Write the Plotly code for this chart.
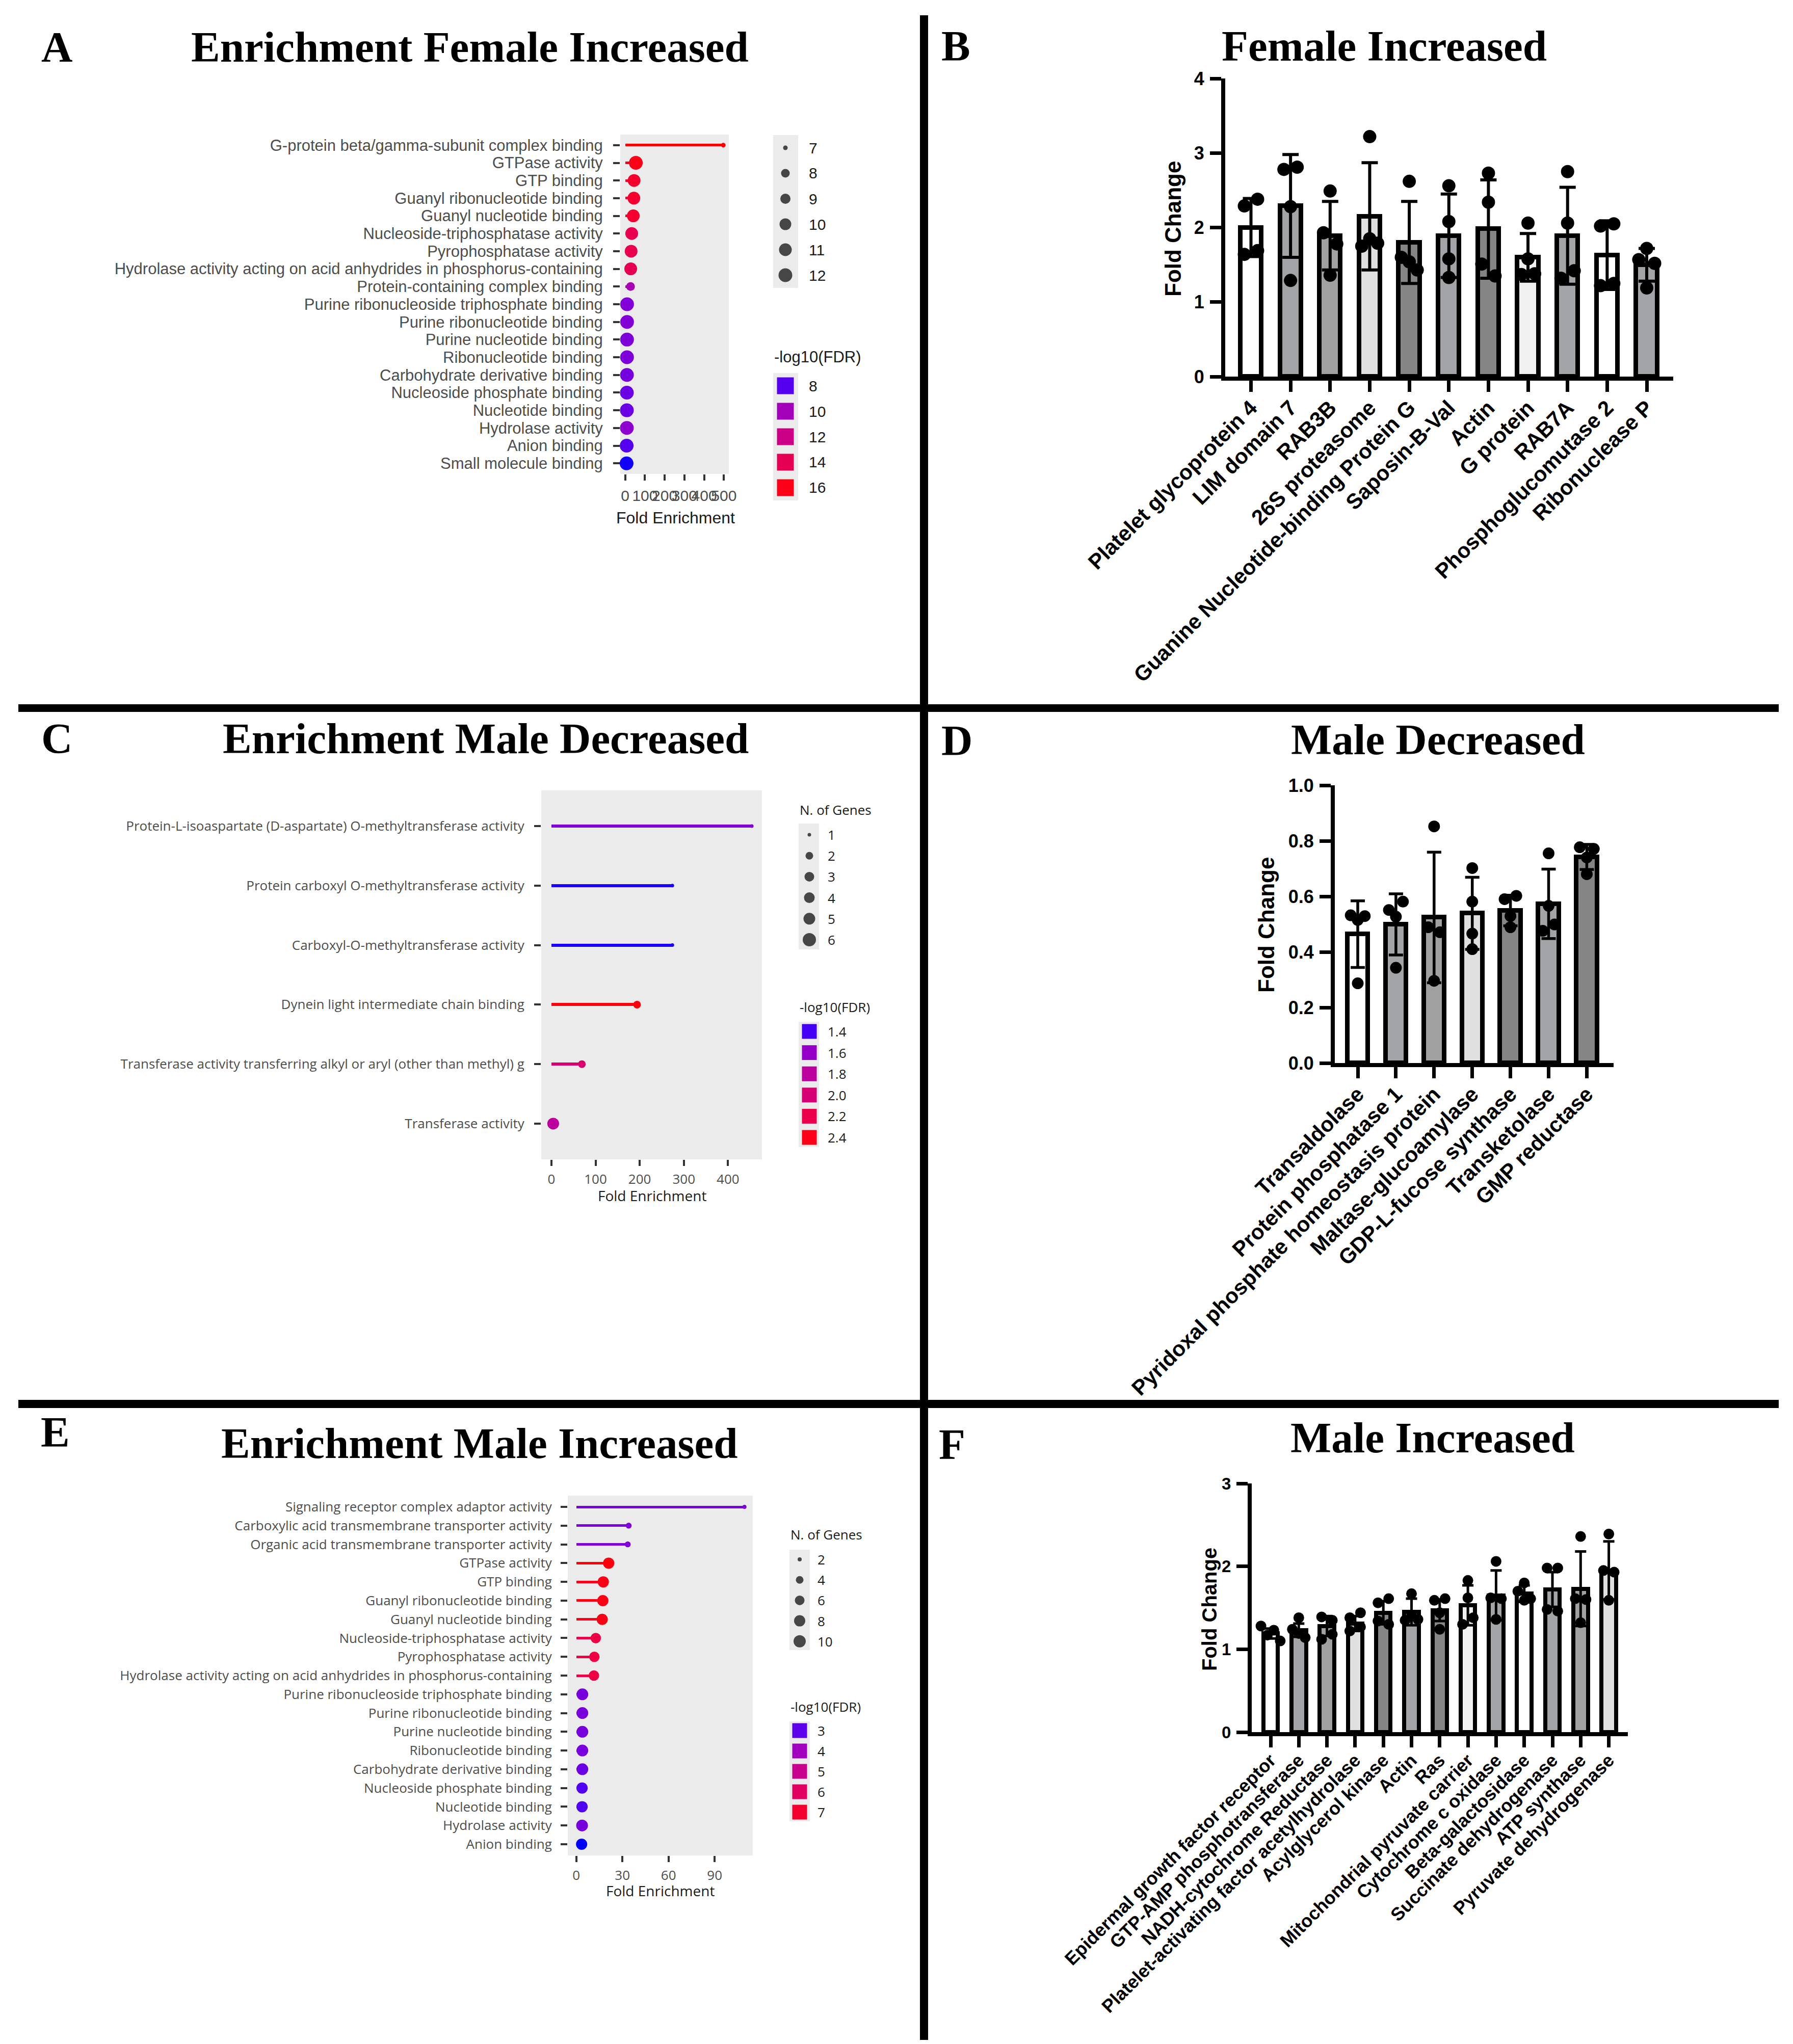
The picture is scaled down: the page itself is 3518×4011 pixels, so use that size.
import numpy as np
import plotly.graph_objects as go

W, H = 3518, 4011

# ===================== DATA =====================
# ---- Panel A : Enrichment Female Increased ----
a_terms = [
    "G-protein beta/gamma-subunit complex binding",
    "GTPase activity",
    "GTP binding",
    "Guanyl ribonucleotide binding",
    "Guanyl nucleotide binding",
    "Nucleoside-triphosphatase activity",
    "Pyrophosphatase activity",
    "Hydrolase activity acting on acid anhydrides in phosphorus-containing",
    "Protein-containing complex binding",
    "Purine ribonucleoside triphosphate binding",
    "Purine ribonucleotide binding",
    "Purine nucleotide binding",
    "Ribonucleotide binding",
    "Carbohydrate derivative binding",
    "Nucleoside phosphate binding",
    "Nucleotide binding",
    "Hydrolase activity",
    "Anion binding",
    "Small molecule binding",
]
a_fold = [497, 54, 45, 44, 41, 33, 30, 28, 27, 9.5, 9.5, 9.3, 9.2, 8.8, 8.5, 8.5, 8.4, 7.5, 7.0]
a_genes = [7, 12, 11, 11, 11, 11, 11, 11, 8, 12, 12, 12, 12, 12, 12, 12, 12, 12, 12]
a_log10fdr = [16.4, 16.0, 15.4, 15.3, 15.3, 14.2, 14.2, 14.0, 10.2, 8.9, 8.9, 8.8, 8.8, 8.6, 8.4, 8.4, 9.2, 8.0, 7.5]
a_xticks = [0, 100, 200, 300, 400, 500]
a_size_keys = [7, 8, 9, 10, 11, 12]
a_color_keys = [8, 10, 12, 14, 16]

# ---- Panel B : Female Increased ----
b_proteins = ["Platelet glycoprotein 4", "LIM domain 7", "RAB3B", "26S proteasome",
              "Guanine Nucleotide-binding Protein G", "Saposin-B-Val", "Actin", "G protein",
              "RAB7A", "Phosphoglucomutase 2", "Ribonuclease P"]
b_mean = [2.00, 2.29, 1.89, 2.15, 1.80, 1.89, 1.98, 1.60, 1.89, 1.63, 1.50]
b_sd = [0.39, 0.69, 0.46, 0.72, 0.55, 0.56, 0.66, 0.32, 0.65, 0.46, 0.22]
b_reps = [[2.29, 2.38, 1.64, 1.69], [2.78, 2.81, 2.28, 1.29], [2.49, 1.93, 1.78, 1.36],
          [3.22, 1.75, 1.85, 1.79], [2.62, 1.60, 1.54, 1.43], [2.56, 2.08, 1.58, 1.33],
          [2.73, 2.34, 1.51, 1.35], [2.06, 1.58, 1.37, 1.38], [2.75, 2.06, 1.32, 1.42],
          [2.02, 2.05, 1.22, 1.25], [1.57, 1.72, 1.52, 1.19]]
b_yticks = [0, 1, 2, 3, 4]

# ---- Panel C : Enrichment Male Decreased ----
c_terms = [
    "Protein-L-isoaspartate (D-aspartate) O-methyltransferase activity",
    "Protein carboxyl O-methyltransferase activity",
    "Carboxyl-O-methyltransferase activity",
    "Dynein light intermediate chain binding",
    "Transferase activity transferring alkyl or aryl (other than methyl) g",
    "Transferase activity",
]
c_fold = [454, 274, 274, 194, 69, 4]
c_genes = [1, 1, 1, 2, 2, 5]
c_log10fdr = [1.53, 1.37, 1.37, 2.42, 2.02, 1.80]
c_xticks = [0, 100, 200, 300, 400]
c_size_keys = [1, 2, 3, 4, 5, 6]
c_color_keys = [1.4, 1.6, 1.8, 2.0, 2.2, 2.4]

# ---- Panel D : Male Decreased ----
d_proteins = ["Transaldolase", "Protein phosphatase 1", "Pyridoxal phosphate homeostasis protein",
              "Maltase-glucoamylase", "GDP-L-fucose synthase", "Transketolase", "GMP reductase"]
d_mean = [0.464, 0.499, 0.524, 0.539, 0.549, 0.573, 0.742]
d_sd = [0.12, 0.11, 0.235, 0.13, 0.055, 0.125, 0.045]
d_reps = [[0.532, 0.515, 0.529, 0.287], [0.551, 0.527, 0.581, 0.343], [0.852, 0.489, 0.471, 0.296],
          [0.702, 0.581, 0.466, 0.410], [0.590, 0.602, 0.529, 0.489], [0.755, 0.566, 0.476, 0.499],
          [0.777, 0.740, 0.771, 0.680]]
d_yticks = [0.0, 0.2, 0.4, 0.6, 0.8, 1.0]

# ---- Panel E : Enrichment Male Increased ----
e_terms = [
    "Signaling receptor complex adaptor activity",
    "Carboxylic acid transmembrane transporter activity",
    "Organic acid transmembrane transporter activity",
    "GTPase activity",
    "GTP binding",
    "Guanyl ribonucleotide binding",
    "Guanyl nucleotide binding",
    "Nucleoside-triphosphatase activity",
    "Pyrophosphatase activity",
    "Hydrolase activity acting on acid anhydrides in phosphorus-containing",
    "Purine ribonucleoside triphosphate binding",
    "Purine ribonucleotide binding",
    "Purine nucleotide binding",
    "Ribonucleotide binding",
    "Carbohydrate derivative binding",
    "Nucleoside phosphate binding",
    "Nucleotide binding",
    "Hydrolase activity",
    "Anion binding",
]
e_fold = [109.4, 34.1, 33.5, 21.1, 17.6, 17.3, 16.9, 12.7, 11.8, 11.5, 4.0, 4.0, 4.0, 4.0, 4.0, 3.8, 3.8, 3.8, 3.5]
e_genes = [2, 3, 3, 8, 8, 8, 8, 7, 7, 7, 9, 9, 9, 9, 9, 8, 8, 9, 8]
e_log10fdr = [3.35, 3.4, 3.4, 7.5, 7.4, 7.4, 7.4, 6.6, 6.6, 6.6, 3.3, 3.3, 3.3, 3.3, 3.15, 2.9, 2.9, 3.3, 2.6]
e_xticks = [0, 30, 60, 90]
e_size_keys = [2, 4, 6, 8, 10]
e_color_keys = [3, 4, 5, 6, 7]

# ---- Panel F : Male Increased ----
f_proteins = ["Epidermal growth factor receptor", "GTP-AMP phosphotransferase", "NADH-cytochrome Reductase",
              "Platelet-activating factor acetylhydrolase", "Acylglycerol kinase", "Actin", "Ras",
              "Mitochondrial pyruvate carrier", "Cytochrome c oxidase", "Beta-galactosidase",
              "Succinate dehydrogenase", "ATP synthase", "Pyruvate dehydrogenase"]
f_mean = [1.19, 1.23, 1.28, 1.31, 1.44, 1.45, 1.47, 1.53, 1.65, 1.67, 1.72, 1.73, 1.95]
f_sd = [0.06, 0.08, 0.12, 0.09, 0.14, 0.16, 0.13, 0.24, 0.30, 0.10, 0.21, 0.45, 0.35]
f_reps = [[1.28, 1.17, 1.23, 1.10], [1.38, 1.24, 1.19, 1.14], [1.39, 1.35, 1.12, 1.18],
          [1.38, 1.44, 1.22, 1.27], [1.56, 1.61, 1.34, 1.30], [1.67, 1.35, 1.40, 1.36],
          [1.59, 1.61, 1.44, 1.24], [1.83, 1.62, 1.30, 1.38], [2.06, 1.62, 1.61, 1.36],
          [1.70, 1.80, 1.59, 1.61], [1.98, 1.98, 1.48, 1.46], [2.36, 1.61, 1.60, 1.32],
          [2.39, 1.95, 1.93, 1.59]]
f_yticks = [0, 1, 2, 3]

# ===================== STYLE =====================
BAR_FILLS = ["#FFFFFF", "#A3A4A8", "#A0A0A0", "#E0E0E0", "#858585", "#A3A4A8", "#858585",
             "#F0F0F0", "#A3A4A8", "#FFFFFF", "#A3A4A8", "#A0A0A0", "#E0E0E0"]
SERIF = "Liberation Serif"
ARIAL = "Liberation Sans"
OPEN = "Open Sans"
GG_PANEL = "#EBEBEB"
GG_TEXT = "#4D4D4D"
GG_TICK = "#333333"


def px_x(p):
    return p / W


def px_y(p):
    return 1 - p / H


# ---- ggplot-like blue->red gradient interpolated in CIE Lab ----
def _lin(c):
    c = np.asarray(c, float) / 255.0
    return np.where(c <= 0.04045, c / 12.92, ((c + 0.055) / 1.055) ** 2.4)


def rgb_to_lab(rgb):
    r, g, b = _lin(rgb)
    X = 0.4124564 * r + 0.3575761 * g + 0.1804375 * b
    Y = 0.2126729 * r + 0.7151522 * g + 0.0721750 * b
    Z = 0.0193339 * r + 0.1191920 * g + 0.9503041 * b

    def f(t):
        return np.cbrt(t) if t > (6 / 29) ** 3 else t / (3 * (6 / 29) ** 2) + 4 / 29
    fx, fy, fz = f(X / 0.95047), f(Y), f(Z / 1.08883)
    return np.array([116 * fy - 16, 500 * (fx - fy), 200 * (fy - fz)])


def lab_to_hex(lab):
    L, a, b = lab
    fy = (L + 16) / 116
    fx = fy + a / 500
    fz = fy - b / 200

    def finv(t):
        return t ** 3 if t > 6 / 29 else 3 * (6 / 29) ** 2 * (t - 4 / 29)
    X, Y, Z = 0.95047 * finv(fx), finv(fy), 1.08883 * finv(fz)
    rgb = [3.2404542 * X - 1.5371385 * Y - 0.4985314 * Z,
           -0.9692660 * X + 1.8760108 * Y + 0.0415560 * Z,
           0.0556434 * X - 0.2040259 * Y + 1.0572252 * Z]
    out = []
    for c in rgb:
        c = min(max(c, 0.0), 1.0)
        c = 12.92 * c if c <= 0.0031308 else 1.055 * c ** (1 / 2.4) - 0.055
        out.append(int(round(c * 255)))
    return "#%02X%02X%02X" % tuple(out)


LAB_LO, LAB_HI = rgb_to_lab([0, 0, 255]), rgb_to_lab([255, 0, 0])
BLUE_RED = [[float(t), lab_to_hex(LAB_LO + (LAB_HI - LAB_LO) * t)] for t in np.linspace(0, 1, 21)]

fig = go.Figure()
layout_axes = {}
annotations = []
shapes = []


def ann(text, x, y, size, family=ARIAL, color="black", weight="normal", xanchor="center",
        yanchor="middle", angle=0):
    annotations.append(dict(text=text, x=px_x(x), y=px_y(y), xref="paper", yref="paper",
                            xanchor=xanchor, yanchor=yanchor, showarrow=False, textangle=angle,
                            font=dict(family=family, size=size, color=color, weight=weight)))


def rect(x0, y0, x1, y1, color, layer="below"):
    shapes.append(dict(type="rect", xref="paper", yref="paper", x0=px_x(x0), x1=px_x(x1),
                       y0=px_y(y1), y1=px_y(y0), fillcolor=color, line=dict(width=0), layer=layer))


def ax_names(k):
    return ("x", "y") if k == 1 else ("x%d" % k, "y%d" % k)


def lollipop(k, terms, fold, genes, fdr, crange, size_keys, size_diam, dom, xrange, xticks,
             font, lab_size, tick_size, seg_px, standoff):
    xa, ya = ax_names(k)
    n = len(terms)
    x0, y0, x1, y1 = dom
    cat_px = (y1 - y0) / (n - 1 + 1.2)
    fig.add_trace(go.Bar(x=fold, y=terms, orientation="h", width=seg_px / cat_px, base=0,
                         marker=dict(color=fdr, colorscale=BLUE_RED, cmin=crange[0], cmax=crange[1],
                                     line=dict(width=0)),
                         xaxis=xa, yaxis=ya, showlegend=False, hoverinfo="skip"))
    fig.add_trace(go.Scatter(x=fold, y=terms, mode="markers",
                             marker=dict(size=np.interp(genes, size_keys, size_diam), color=fdr,
                                         colorscale=BLUE_RED, cmin=crange[0], cmax=crange[1],
                                         line=dict(width=0), opacity=1),
                             xaxis=xa, yaxis=ya, showlegend=False, cliponaxis=False))
    layout_axes["xaxis" if k == 1 else "xaxis%d" % k] = dict(
        domain=[px_x(x0), px_x(x1)], range=xrange, tickmode="array", tickvals=xticks,
        tickangle=0, ticks="outside", ticklen=12, tickwidth=4, tickcolor=GG_TICK,
        showline=False, showgrid=False, zeroline=False, anchor=ya, ticklabelstandoff=4,
        automargin=False, tickfont=dict(family=font, size=tick_size, color=GG_TEXT))
    layout_axes["yaxis" if k == 1 else "yaxis%d" % k] = dict(
        domain=[px_y(y1), px_y(y0)], type="category", categoryorder="array", categoryarray=terms,
        range=[n - 0.4, -0.6], tickmode="array", tickvals=terms, ticktext=terms,
        ticks="outside", ticklen=13, tickwidth=4, tickcolor=GG_TICK,
        showline=False, showgrid=False, zeroline=False, anchor=xa, ticklabelstandoff=standoff,
        automargin=False, tickfont=dict(family=font, size=lab_size, color=GG_TEXT))
    shapes.append(dict(type="rect", xref="%s domain" % xa, yref="%s domain" % ya, x0=0, x1=1, y0=0,
                       y1=1, fillcolor=GG_PANEL, line=dict(width=0), layer="below"))


def swarm_offsets(vals, thr, step):
    vals = np.asarray(vals, float)
    order = np.argsort(vals, kind="stable")
    clusters, cur = [], [order[0]]
    for a, b in zip(order[:-1], order[1:]):
        if vals[b] - vals[a] < thr:
            cur.append(b)
        else:
            clusters.append(cur)
            cur = [b]
    clusters.append(cur)
    off = np.zeros(len(vals))
    for cl in clusters:
        cl = sorted(cl)
        m = len(cl)
        s = step if m == 2 else 0.6 * step
        for j, i in enumerate(cl):
            off[i] = (j - (m - 1) / 2) * s
    return off


def barpanel(k, labels, mean, sd, reps, dom, cat0_px, cat_px, ymax, yticks, ytickfmt,
             bar_w, outline, err_th, err_cap, dot_d, thr, lab_size, tick_size):
    xa, ya = ax_names(k)
    n = len(labels)
    x0, y0, x1, y1 = dom
    idx = np.arange(n)
    fig.add_trace(go.Bar(x=idx, y=mean, width=bar_w,
                         marker=dict(color=BAR_FILLS[:n], line=dict(color="black", width=outline)),
                         error_y=dict(type="data", array=sd, visible=True, color="black",
                                      thickness=err_th, width=err_cap),
                         xaxis=xa, yaxis=ya, showlegend=False, hoverinfo="skip"))
    xs, ys = [], []
    step = dot_d / cat_px
    for i, r in enumerate(reps):
        off = swarm_offsets(r, thr, step)
        xs.extend(list(i + off))
        ys.extend(r)
    fig.add_trace(go.Scatter(x=xs, y=ys, mode="markers",
                             marker=dict(size=dot_d, color="black", line=dict(width=0)),
                             xaxis=xa, yaxis=ya, showlegend=False, cliponaxis=False))
    layout_axes["xaxis%d" % k] = dict(
        domain=[px_x(x0), px_x(x1)], range=[-(cat0_px - x0) / cat_px, (x1 - cat0_px) / cat_px],
        tickmode="array", tickvals=idx, ticktext=labels, tickangle=-45,
        ticks="outside", ticklen=22, tickwidth=7, tickcolor="black",
        showline=True, linewidth=8, linecolor="black", showgrid=False, zeroline=False,
        anchor=ya, ticklabelstandoff=-10, automargin=False,
        tickfont=dict(family=ARIAL, size=lab_size, color="black", weight="bold"))
    layout_axes["yaxis%d" % k] = dict(
        domain=[px_y(y1), px_y(y0)], range=[0, ymax], tickmode="array", tickvals=yticks,
        tickformat=ytickfmt, ticks="outside", ticklen=22, tickwidth=7, tickcolor="black",
        showline=True, linewidth=8, linecolor="black", showgrid=False, zeroline=False,
        anchor=xa, ticklabelstandoff=4, automargin=False,
        tickfont=dict(family=ARIAL, size=tick_size, color="black", weight="bold"))


# ===================== PANELS =====================
A_CR = (7.4, 16.4)
A_DIAM = [9, 17, 20, 23, 25, 27]
lollipop(1, a_terms, a_fold, a_genes, a_log10fdr, A_CR, a_size_keys, A_DIAM,
         (1209, 256, 1422, 922), [-25, 525], a_xticks, ARIAL, 31, 30, 5, 14)
C_CR = (1.35, 2.45)
C_DIAM = [7, 15, 19, 21, 23, 26]
lollipop(3, c_terms, c_fold, c_genes, c_log10fdr, C_CR, c_size_keys, C_DIAM,
         (1054, 1543, 1487, 2267), [-23, 477], c_xticks, OPEN, 26, 26, 6, 14)
E_CR = (2.6, 7.6)
E_DIAM = [8, 15, 19, 22, 24]
lollipop(5, e_terms, e_fold, e_genes, e_log10fdr, E_CR, e_size_keys, E_DIAM,
         (1106, 2927, 1469, 3633), [-5.5, 114.8], e_xticks, OPEN, 26, 26, 5, 12)

barpanel(2, b_proteins, b_mean, b_sd, b_reps, (2396, 146, 3275, 731), 2446.5, 77.65, 4,
         b_yticks, "d", 0.532, 9, 6, 16, 26, 0.16, 42, 36)
barpanel(4, d_proteins, d_mean, d_sd, d_reps, (2611, 1533, 3158, 2078), 2656, 74.9, 1.0,
         d_yticks, ".1f", 0.537, 9, 5.5, 14, 23, 0.035, 42, 36)
barpanel(6, f_proteins, f_mean, f_sd, f_reps, (2448, 2903, 3186, 3391), 2485, 55.3, 3,
         f_yticks, "d", 0.515, 8, 5, 11, 21, 0.1, 36, 33)

# ===================== LEGENDS (full-figure pixel overlay axis) =====================
layout_axes["xaxis7"] = dict(domain=[0, 1], range=[0, W], visible=False, anchor="y7",
                             fixedrange=True, automargin=False)
layout_axes["yaxis7"] = dict(domain=[0, 1], range=[H, 0], visible=False, anchor="x7",
                             fixedrange=True, automargin=False)


def size_legend(keys, diam, xc, ytop, step, xlab, font, fsize):
    ys = [ytop + step * i for i in range(len(keys))]
    fig.add_trace(go.Scatter(x=[xc] * len(keys), y=ys, mode="markers",
                             marker=dict(size=np.interp(keys, keys, diam), color="black", line=dict(width=0)),
                             xaxis="x7", yaxis="y7", showlegend=False, cliponaxis=False))
    for kv, yv in zip(keys, ys):
        ann(str(kv), xlab, yv, fsize, family=font, color="#1A1A1A", xanchor="left")


def color_legend(keys, crange, xc, ytop, step, sq, xlab, font, fsize, fmt):
    ys = [ytop + step * i for i in range(len(keys))]
    fig.add_trace(go.Scatter(x=[xc] * len(keys), y=ys, mode="markers",
                             marker=dict(symbol="square", size=sq, color=keys, colorscale=BLUE_RED,
                                         cmin=crange[0], cmax=crange[1], line=dict(width=0)),
                             xaxis="x7", yaxis="y7", showlegend=False, cliponaxis=False))
    for kv, yv in zip(keys, ys):
        ann(fmt.format(kv), xlab, yv, fsize, family=font, color="#1A1A1A", xanchor="left")


rect(1509, 257, 1558, 557, GG_PANEL)
rect(1509, 724, 1558, 974, GG_PANEL)
size_legend(a_size_keys, A_DIAM, 1533, 282, 50, 1577, ARIAL, 30)
ann("-log10(FDR)", 1509, 692, 31, family=ARIAL, color="#1A1A1A", xanchor="left")
color_legend(a_color_keys, A_CR, 1533, 749, 50, 33, 1577, ARIAL, 30, "{:d}")

rect(1559, 1608, 1599, 1855, GG_PANEL)
rect(1559, 1997, 1599, 2243, GG_PANEL)
ann("N. of Genes", 1559, 1581, 26, family=OPEN, color="#1A1A1A", xanchor="left")
size_legend(c_size_keys, C_DIAM, 1580, 1630, 41.2, 1614, OPEN, 26)
ann("-log10(FDR)", 1559, 1968, 26, family=OPEN, color="#1A1A1A", xanchor="left")
color_legend(c_color_keys, C_CR, 1580, 2016, 41.6, 29, 1614, OPEN, 26, "{:.1f}")

rect(1541, 3033, 1581, 3230, GG_PANEL)
rect(1541, 3370, 1581, 3566, GG_PANEL)
ann("N. of Genes", 1541, 3003, 26, family=OPEN, color="#1A1A1A", xanchor="left")
size_legend(e_size_keys, E_DIAM, 1561, 3052, 40.2, 1594, OPEN, 26)
ann("-log10(FDR)", 1541, 3341, 26, family=OPEN, color="#1A1A1A", xanchor="left")
color_legend(e_color_keys, E_CR, 1561, 3388, 40, 29, 1594, OPEN, 26, "{:d}")

# ===================== TEXT =====================
TS = 85
DY = -10  # lift cap-height text so caps centre on the reference positions
ann("A", 103, 94 + DY, TS, family=SERIF, weight="bold")
ann("Enrichment Female Increased", 914, 94 + DY, TS, family=SERIF, weight="bold")
ann("B", 1867, 92 + DY, TS, family=SERIF, weight="bold")
ann("Female Increased", 2708, 92 + DY, TS, family=SERIF, weight="bold")
ann("C", 103, 1451 + DY, TS, family=SERIF, weight="bold")
ann("Enrichment Male Decreased", 945, 1451 + DY, TS, family=SERIF, weight="bold")
ann("D", 1869, 1455 + DY, TS, family=SERIF, weight="bold")
ann("Male Decreased", 2813, 1453 + DY, TS, family=SERIF, weight="bold")
ann("E", 100, 2812 + DY, TS, family=SERIF, weight="bold")
ann("Enrichment Male Increased", 933, 2834 + DY, TS, family=SERIF, weight="bold")
ann("F", 1860, 2836 + DY, TS, family=SERIF, weight="bold")
ann("Male Increased", 2803, 2823 + DY, TS, family=SERIF, weight="bold")

ann("Fold Enrichment", 1317, 1008, 32, family=ARIAL, color="#1A1A1A")
ann("Fold Enrichment", 1271, 2338, 28, family=OPEN, color="#1A1A1A")
ann("Fold Enrichment", 1287, 3702, 28, family=OPEN, color="#1A1A1A")

ann("Fold Change", 2293, 441, 44, family=ARIAL, weight="bold", angle=-90)
ann("Fold Change", 2477, 1807, 44, family=ARIAL, weight="bold", angle=-90)
ann("Fold Change", 2365, 3150, 40, family=ARIAL, weight="bold", angle=-90)

# ===================== SEPARATORS =====================
rect(1797, 22, 1813, 3995, "black", layer="above")
rect(28, 1374, 3482, 1389, "black", layer="above")
rect(28, 2739, 3482, 2755, "black", layer="above")

fig.update_layout(template="none", width=W, height=H,
                  margin=dict(l=0, r=0, t=0, b=0, pad=0, autoexpand=False),
                  paper_bgcolor="white", plot_bgcolor="rgba(0,0,0,0)", showlegend=False,
                  bargap=0, annotations=annotations, shapes=shapes,
                  font=dict(family=ARIAL, color="black"), **layout_axes)

fig.write_html("out.html")
